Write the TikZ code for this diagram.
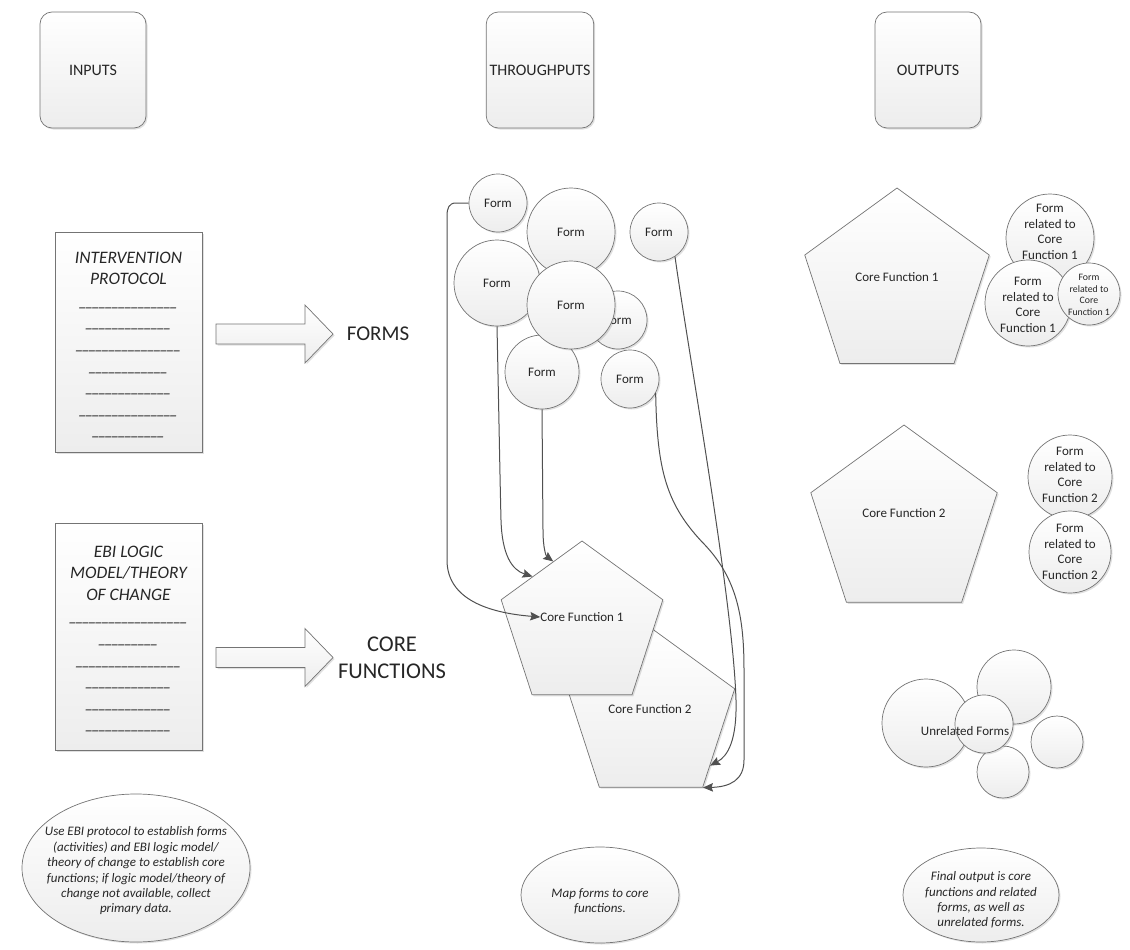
\documentclass[tikz,border=0pt]{standalone}
\usepackage{fontspec}
\setmainfont{Carlito}
\usetikzlibrary{shapes.geometric,shadows,arrows.meta}
\definecolor{edgec}{HTML}{747474}
\definecolor{fillb}{HTML}{EDEDED}
\definecolor{txt}{HTML}{262626}
\definecolor{conn}{HTML}{505050}
\newcommand\fsz[2]{\fontsize{#1}{#2}\selectfont}
\newcommand\us[1]{\ifnum#1>1 \_\kern-2.2pt\expandafter\us\expandafter{\the\numexpr#1-1\relax}\else\_\fi}
\tikzset{
  shp/.style={draw=edgec, line width=0.7pt, top color=white, bottom color=fillb,
    drop shadow={shadow xshift=1.5pt, shadow yshift=-1.5pt, fill=black, opacity=0.12}},
  hdr/.style={shp, rectangle, rounded corners=12pt, minimum width=106, minimum height=116,
    font=\fsz{16}{19}, text=txt},
  docbox/.style={shp, rectangle, minimum width=147, inner sep=0},
  doctext/.style={inner sep=0, align=center, font=\fsz{17.5}{21.6}\itshape, text=txt},
  blockarr/.style={shp},
  big/.style={inner sep=0, align=center, text=txt},
  circ/.style={shp, circle, inner sep=0, align=center, font=\fsz{13}{15.7}, text=txt},
  pent/.style={shp, regular polygon, regular polygon sides=5, inner sep=0},
  lbl/.style={inner sep=0, align=center, font=\fsz{13}{15.7}, text=txt},
  oval/.style={shp, ellipse, inner sep=0},
  ovaltext/.style={inner sep=0, align=center, font=\fsz{13}{15.4}\itshape, text=txt},
  conn/.style={draw=conn, line width=1pt, -{Stealth[length=10pt,width=8.5pt,inset=1.5pt]}},
}
\begin{document}
\begin{tikzpicture}[x=1pt,y=-1pt]
\useasboundingbox (0,0) rectangle (1130,950);

% headers
\node[hdr] (hin) at (93,70) {INPUTS};
\node[hdr] (hth) at (540,70) {THROUGHPUTS};
\node[hdr] (hout) at (928,70) {OUTPUTS};

% input documents
\node[docbox, minimum height=220] (doc1) at (128.5,342) {};
\node[doctext, anchor=north] (doc1t) at (128.5,251.5)
  {INTERVENTION\\PROTOCOL\\\us{15}\\\us{13}\\\us{16}\\\us{12}\\\us{13}\\\us{15}\\\us{11}};
\node[docbox, minimum height=227] (doc2) at (128.5,636.5) {};
\node[doctext, anchor=north] (doc2t) at (128.5,545.5)
  {EBI LOGIC\\MODEL/THEORY\\OF CHANGE\\\us{18}\\\us{9}\\\us{16}\\\us{13}\\\us{13}\\\us{13}};

% block arrows
\path[blockarr] (216,324) -- (305,324) -- (305,305) -- (333,334) -- (305,363) -- (305,344) -- (216,344) -- cycle;
\path[blockarr] (216,647.5) -- (305,647.5) -- (305,628.5) -- (333,657.5) -- (305,686.5) -- (305,667.5) -- (216,667.5) -- cycle;
\node[big, font=\fsz{21}{25}] (forms) at (378,334) {FORMS};
\node[big, font=\fsz{22.5}{27}] (cfs) at (392,658) {CORE\\FUNCTIONS};

% throughput forms
\node[circ, minimum size=58] (f1) at (498,203) {Form};
\node[circ, minimum size=88] (tb) at (571,232) {Form};
\node[circ, minimum size=58] (rf) at (659,232) {Form};
\node[circ, minimum size=58] (rm) at (618,320) {Form};
\node[circ, minimum size=86] (bl) at (497,283) {Form};
\node[circ, minimum size=74] (lf) at (542,372) {Form};
\node[circ, minimum size=58] (srf) at (630,379) {Form};
\node[circ, minimum size=88] (cen) at (571,305) {Form};

% throughput pentagons
\node[pent, minimum size=176] (cf2) at (651,716) {};
\node[lbl] (cf2t) at (650,709) {Core Function 2};
\node[pent, minimum size=170] (cf1) at (582,626) {};
\node[lbl] (cf1t) at (582,617) {Core Function 1};

% connectors
\draw[conn] (f1.west) -- (456,203) .. controls (449,203) and (447,208) .. (447,216)
  -- (447,560) .. controls (447,600) and (490,613) .. (cf1t.west);
\draw[conn] (bl.south) .. controls (499,420) and (500,480) .. (501,520)
  .. controls (502,555) and (512,570) .. (cf1.135);
\draw[conn] (lf.south) -- (543,530) .. controls (543,548) and (546,556) .. (cf1.114);
\draw[conn] (rf.-57) .. controls (688,350) and (733,600) .. (736,700)
  .. controls (737,740) and (728,756) .. (cf2.-40);
\draw[conn] (srf.-29) .. controls (657,470) and (666,505) .. (705,545)
  .. controls (738,580) and (744,620) .. (744,670) -- (744,760)
  .. controls (744,780) and (730,787) .. (cf2.corner 4);

% output core functions
\node[pent, minimum size=194] (ocf1) at (897,285) {};
\node[lbl] (ocf1t) at (897,277) {Core Function 1};
\node[pent, minimum size=196] (ocf2) at (904,523) {};
\node[lbl] (ocf2t) at (904,513) {Core Function 2};

% related forms
\node[circ, minimum size=88] (ra) at (1050,238) {};
\node[lbl] (rat) at (1050,232) {Form\\related to\\Core\\Function 1};
\node[circ, minimum size=86] (rb) at (1028,303) {};
\node[lbl] (rbt) at (1028,305) {Form\\related to\\Core\\Function 1};
\node[circ, minimum size=62] (rc) at (1089,294) {};
\node[lbl, font=\fsz{9.8}{11.5}] (rct) at (1089,295) {Form\\related to\\Core\\Function 1};
\node[circ, minimum size=84] (rd) at (1070,477) {};
\node[lbl] (rdt) at (1070,475) {Form\\related to\\Core\\Function 2};
\node[circ, minimum size=82] (re) at (1070,552) {};
\node[lbl] (ret) at (1070,552) {Form\\related to\\Core\\Function 2};

% unrelated forms
\node[circ, minimum size=88] (u1) at (926,723) {};
\node[circ, minimum size=74] (u2) at (1014,687) {};
\node[circ, minimum size=52] (u3) at (1057,742) {};
\node[circ, minimum size=52] (u4) at (1003,772) {};
\node[circ, minimum size=58] (u5) at (984,724) {};
\node[lbl] (ut) at (965,731) {Unrelated Forms};

% bottom notes
\node[oval, minimum width=228, minimum height=148] (n1) at (136,868) {};
\node[ovaltext] (n1t) at (136,871) {Use EBI protocol to establish forms\\(activities) and EBI logic model/\\theory of change to establish core\\functions; if logic model/theory of\\change not available, collect\\primary data.};
\node[oval, minimum width=158, minimum height=96] (n2) at (600,895) {};
\node[ovaltext] (n2t) at (600,901) {Map forms to core\\functions.};
\node[oval, minimum width=156, minimum height=94] (n3) at (981,895) {};
\node[ovaltext] (n3t) at (981,900) {Final output is core\\functions and related\\forms, as well as\\unrelated forms.};
\end{tikzpicture}
\end{document}
